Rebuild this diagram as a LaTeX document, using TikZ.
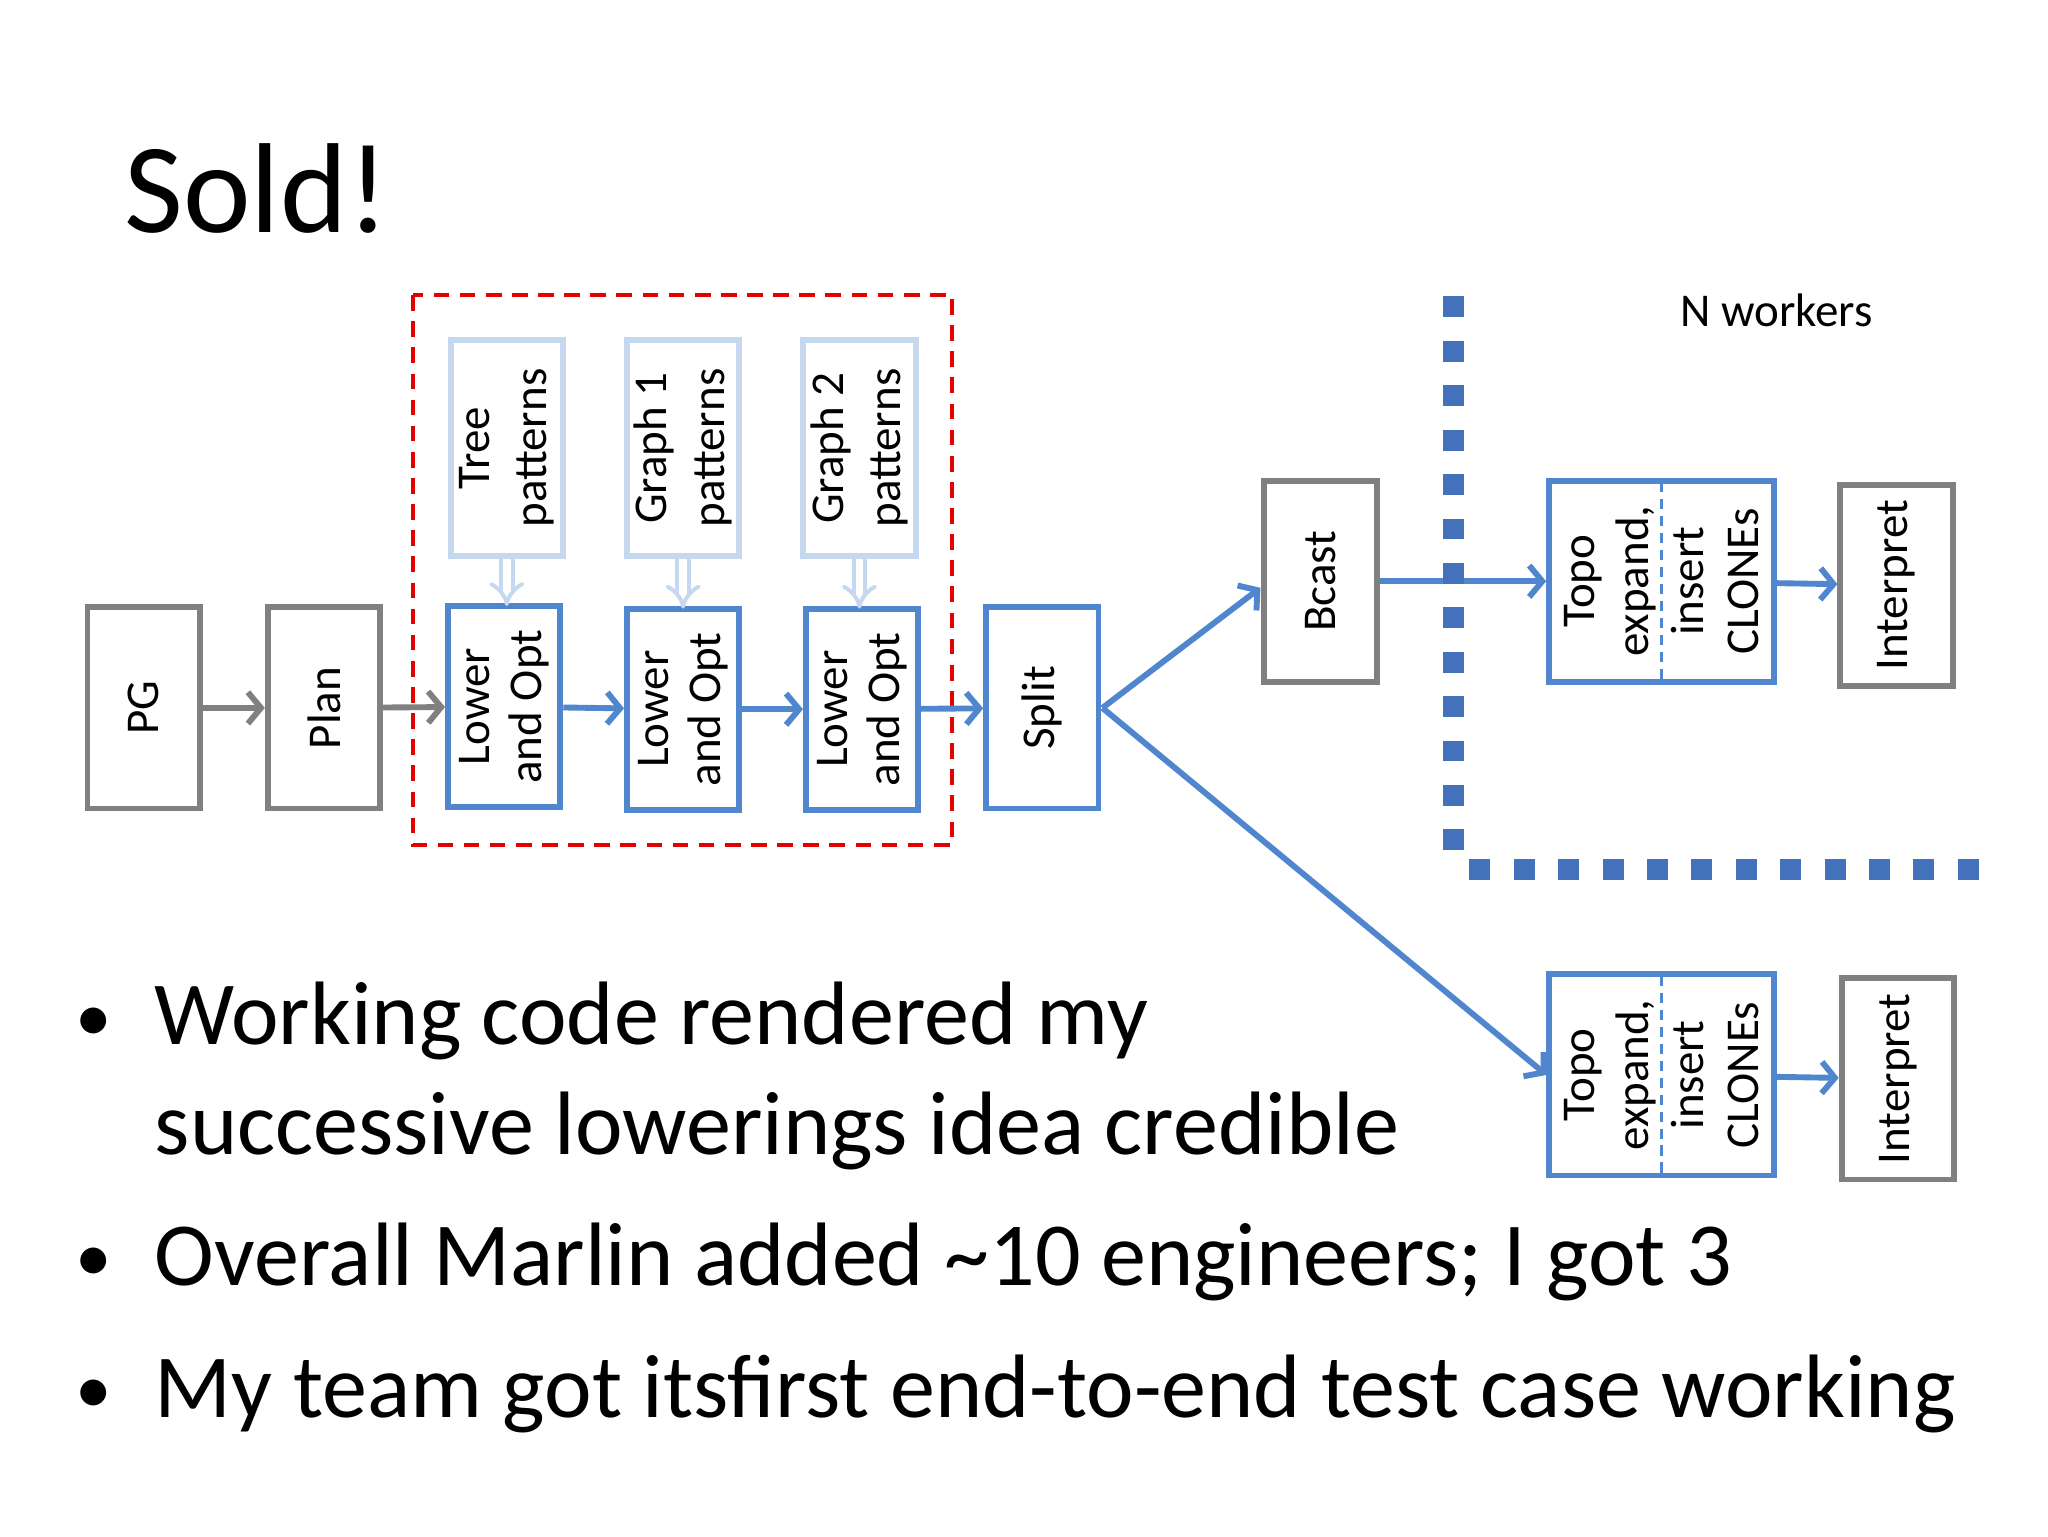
\documentclass[tikz,border=0pt]{standalone}
\usepackage{fontspec}
\setmainfont{Carlito}
\usetikzlibrary{arrows.meta}
\definecolor{bl}{RGB}{79,134,206}
\definecolor{gr}{RGB}{128,128,128}
\definecolor{lb}{RGB}{198,216,240}
\definecolor{dotc}{RGB}{68,114,186}
\begin{document}
\begin{tikzpicture}[x=1pt,y=-1pt,
 box/.style={draw=#1,line width=4.5pt,minimum width=154pt,minimum height=86pt,inner sep=0pt,rotate=90,align=center,font=\fontsize{36}{40}\selectfont},
 pbox/.style={draw=lb,line width=4.5pt,minimum width=166pt,minimum height=86pt,inner sep=0pt,rotate=90,align=center,font=\fontsize{36}{44}\selectfont},
 tbox/.style={draw=bl,line width=4.5pt,minimum width=154pt,minimum height=172pt,inner sep=0pt,rotate=90,align=center,font=\fontsize{36}{42}\selectfont},
 arr/.style={draw=#1,line width=4.5pt,-{Straight Barb[length=10pt,width=24pt,line width=4.5pt]}},
 darr/.style={draw=lb,line width=3pt,double=white,double distance=6pt,-{Implies[length=10pt,width=16pt]}},
 bul/.style={anchor=base west,font=\fontsize{69}{76}\selectfont},
 dot/.style={anchor=base west,font=\fontsize{56}{60}\selectfont}]
\useasboundingbox (0,0) rectangle (1568,1176);
\fill[white] (0,0) rectangle (1568,1176);
\node[anchor=base west,font=\fontsize{98}{110}\selectfont] (title) at (92,178) {Sold!};
\draw[red!90!black,line width=3pt,dash pattern=on 12pt off 8pt] (316,226) rectangle (729,647);
\node[box=gr] (pg) at (110,542) {PG};
\node[box=gr] (plan) at (248,542) {Plan};
\node[pbox] (p1) at (388,343) {Tree\\patterns};
\node[pbox] (p2) at (523,343) {Graph 1\\patterns};
\node[pbox] (p3) at (658,343) {Graph 2\\patterns};
\node[box=bl] (l1) at (386,541) {Lower\\and Opt};
\node[box=bl] (l2) at (523,543) {Lower\\and Opt};
\node[box=bl] (l3) at (660,543) {Lower\\and Opt};
\node[box=bl] (split) at (798,542) {Split};
\node[box=gr] (bcast) at (1011,445) {Bcast};
\node[tbox] (t1) at (1272,445) {Topo\\expand,\\insert\\CLONEs};
\node[box=gr] (i1) at (1452,448) {Interpret};
\node[tbox] (t2) at (1272,823) {Topo\\expand,\\insert\\CLONEs};
\node[box=gr] (i2) at (1453,826) {Interpret};
\draw[bl,line width=2pt,dash pattern=on 8pt off 5pt] (1272,369) -- (1272,521);
\draw[bl,line width=2pt,dash pattern=on 8pt off 5pt] (1272,747) -- (1272,899);
\coordinate (a1s) at (388,428); \coordinate (a1e) at (388,464);
\coordinate (a2s) at (523,428); \coordinate (a2e) at (523,466);
\coordinate (a3s) at (658,428); \coordinate (a3e) at (658,466);
\draw[darr] (a1s) -- (a1e);
\draw[darr] (a2s) -- (a2e);
\draw[darr] (a3s) -- (a3e);
\draw[arr=gr] (pg) -- (plan);
\draw[arr=gr] (plan) -- (l1);
\draw[arr=bl] (l1) -- (l2);
\draw[arr=bl] (l2) -- (l3);
\draw[arr=bl] (l3) -- (split);
\coordinate (sp) at (844,542);
\coordinate (bl1) at (965,450);
\coordinate (t2l) at (1184,823);
\draw[arr=bl] (sp) -- (bl1);
\draw[arr=bl] (sp) -- (t2l);
\draw[arr=bl] (bcast) -- (t1);
\draw[arr=bl] (t1) -- (i1);
\draw[arr=bl] (t2) -- (i2);
\coordinate (d1) at (1113,227);
\coordinate (d2) at (1113,666);
\coordinate (d3) at (1515,666);
\draw[dotc,line width=16pt,dash pattern=on 16pt off 18pt] (d1) -- (d2);
\draw[dotc,line width=16pt,dash pattern=on 16pt off 18pt] ([xshift=12pt]d2) -- (d3);
\node[anchor=base,font=\fontsize{36}{38}\selectfont] (nw) at (1360,250) {N workers};
\node[dot] (b1) at (54,797) {•};
\node[bul] (t1a) at (115,800) {Working code rendered my};
\node[bul] (t1b) at (115,884) {successive lowerings idea credible};
\node[dot] (b2) at (54,981) {•};
\node[bul] (t2a) at (115,984) {Overall Marlin added \textasciitilde10 engineers; I got 3};
\node[dot] (b3) at (54,1082) {•};
\node[bul] (t3a) at (115,1085) {My team got itsfirst end-to-end test case working};
\end{tikzpicture}
\end{document}
